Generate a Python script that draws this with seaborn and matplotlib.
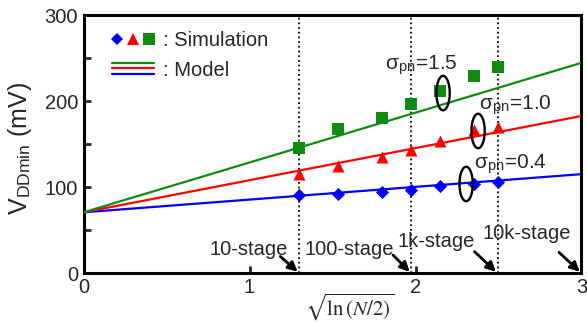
import numpy as np
import pandas as pd
import matplotlib
matplotlib.use("Agg")
import matplotlib.pyplot as plt
from matplotlib.patches import Arc
from matplotlib.lines import Line2D
from matplotlib.legend_handler import HandlerTuple, HandlerBase
import seaborn as sns

# ---------------- data ----------------
x_sim = [1.30, 1.535, 1.80, 1.975, 2.15, 2.35, 2.495]
sim_04 = [90.7, 92.7, 94.6, 97.3, 101.0, 103.9, 105.8]
sim_10 = [115.8, 125.0, 134.8, 143.6, 154.0, 166.8, 170.0]
sim_15 = [145.6, 168.0, 181.0, 197.0, 212.0, 229.7, 240.0]

x_model = [0.0, 3.0]
model_04 = [71.0, 115.3]
model_10 = [71.0, 182.8]
model_15 = [71.0, 244.5]

stage_x = [1.30, 1.975, 2.495, 3.0]
stage_labels = ["10-stage", "100-stage", "1k-stage", "10k-stage"]
sigma_labels = ["1.5", "1.0", "0.4"]

xticks = [0, 1, 2, 3]
yticks = [0, 100, 200, 300]
yminor = [50, 150, 250]

BLUE = "#0000ff"
RED = "#ff0000"
GREEN = "#118a11"

sns.set_style("ticks")
plt.rcParams["font.family"] = ["Liberation Sans", "DejaVu Sans"]
plt.rcParams["mathtext.fontset"] = "stix"

fig = plt.figure(figsize=(5.87, 3.24), dpi=100)
ax = fig.add_axes([0.1424, 0.1559, 0.9906 - 0.1424, 0.9537 - 0.1559])

# model lines
for ys, c in [(model_04, BLUE), (model_10, RED), (model_15, GREEN)]:
    sns.lineplot(x=x_model, y=ys, color=c, lw=1.6, ax=ax, zorder=3)

# stage dotted lines
for sx in stage_x:
    ax.axvline(sx, color="black", lw=1.3, ls=(0, (1, 1.6)), zorder=1)

# simulation markers
sns.scatterplot(x=x_sim, y=sim_04, marker="D", color=BLUE, s=45, linewidth=0, ax=ax, zorder=4)
sns.scatterplot(x=x_sim, y=sim_10, marker="^", color=RED, s=75, linewidth=0, ax=ax, zorder=4)
sns.scatterplot(x=x_sim, y=sim_15, marker="s", color=GREEN, s=75, linewidth=0, ax=ax, zorder=4)

ax.set_xlim(0, 3)
ax.set_ylim(0, 300)
ax.set_xticks(xticks)
ax.set_yticks(yticks)
ax.set_yticks(yminor, minor=True)
ax.tick_params(axis="both", which="major", direction="in", length=5, width=2,
               labelsize=14.5, pad=4)
ax.tick_params(axis="y", which="minor", direction="in", length=5, width=2)
ax.tick_params(axis="x", pad=3)
for sp in ax.spines.values():
    sp.set_linewidth(2.2)
    sp.set_color("black")
    sp.set_visible(True)

ax.set_ylabel("V$_{\\mathregular{DDmin}}$ (mV)", fontsize=18)
ax.yaxis.set_label_coords(-0.10, 0.484)
ax.set_xlabel(r"$\sqrt{\ln\left(N/2\right)}$", fontsize=15)
ax.xaxis.set_label_coords(0.535, -0.13)
ax.xaxis.label.set_va("center")

# stage annotations
stage_text_pos = [(0.997, 21.5), (1.600, 21.5), (2.127, 31.1), (2.673, 40.0)]
arrow_offsets = [(-12.5, 11), (-12, 12), (-15.5, 14.5), (-15, 14)]
for sx, lab, (tx, ty), (ox, oy) in zip(stage_x, stage_labels, stage_text_pos, arrow_offsets):
    ax.text(tx, ty, lab, ha="center", va="baseline", fontsize=14.5, zorder=5)
    ax.annotate("", xy=(sx - 0.01, 2), xytext=(ox, oy), textcoords="offset points",
                arrowprops=dict(arrowstyle="-|>", color="black", lw=2,
                                mutation_scale=14, shrinkA=0, shrinkB=0),
                zorder=5)

# sigma labels & arcs
sigma_text_pos = [(1.817, 237.3), (2.383, 190.9), (2.353, 122.4)]
arc_pos = [(2.166, 209.4), (2.377, 165.4), (2.305, 103.9)]
for lab, (tx, ty), (axc, ayc) in zip(sigma_labels, sigma_text_pos, arc_pos):
    ax.text(tx, ty, "σ$_{\\mathregular{pn}}$=" + lab, ha="left", va="baseline",
            fontsize=15, zorder=5)
    ax.add_patch(Arc((axc, ayc), 0.08, 40, theta1=-125, theta2=150,
                     color="black", lw=1.7, zorder=5))

# legend
class StackedLines:
    pass

class HandlerStacked(HandlerBase):
    def create_artists(self, legend, orig_handle, xdescent, ydescent, width, height,
                       fontsize, trans):
        arts = []
        for i, c in enumerate([GREEN, RED, BLUE]):
            y = height * (0.95 - 0.38 * i) - ydescent
            ln = Line2D([-xdescent, width - xdescent], [y, y], color=c, lw=1.6,
                        transform=trans)
            arts.append(ln)
        return arts

hb = Line2D([], [], marker="D", color=BLUE, ls="none", markersize=6.5, markeredgewidth=0)
hr = Line2D([], [], marker="^", color=RED, ls="none", markersize=8.5, markeredgewidth=0)
hg = Line2D([], [], marker="s", color=GREEN, ls="none", markersize=8, markeredgewidth=0)
leg = ax.legend(handles=[(hb, hr, hg), StackedLines()], labels=[": Simulation", ": Model"],
                handler_map={tuple: HandlerTuple(ndivide=None, pad=0.25),
                             StackedLines: HandlerStacked()},
                loc="upper left", bbox_to_anchor=(0.057, 0.937), frameon=False,
                fontsize=14.5, handlelength=2.1, handletextpad=0.45,
                labelspacing=0.55, borderpad=0, borderaxespad=0)

fig.savefig("out.png", dpi=100)
